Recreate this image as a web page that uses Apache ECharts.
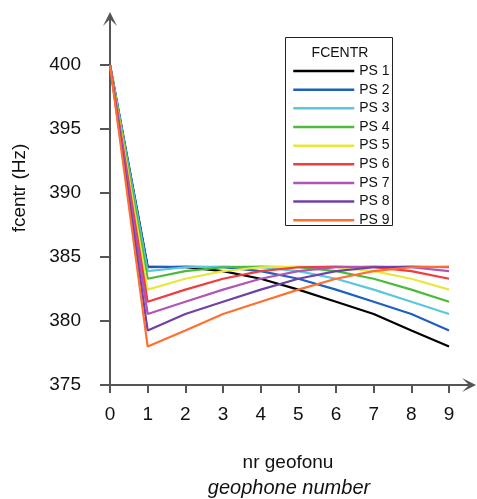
<!DOCTYPE html>
<html>
<head>
<meta charset="utf-8">
<script src="https://cdn.jsdelivr.net/npm/echarts@6/dist/echarts.min.js"></script>
<style>
html,body{margin:0;padding:0;background:#fff;}
#c{width:477px;height:499px;}
</style>
</head>
<body>
<div id="c"></div>
<script>
var geophones = [0, 1, 2, 3, 4, 5, 6, 7, 8, 9];
var seriesNames = ['PS 1', 'PS 2', 'PS 3', 'PS 4', 'PS 5', 'PS 6', 'PS 7', 'PS 8', 'PS 9'];
var ps1 = [400, 384.25, 384.2, 383.9, 383.3, 382.45, 381.5, 380.55, 379.25, 378.0];
var ps2 = [400, 384.2, 384.25, 384.2, 383.9, 383.3, 382.45, 381.5, 380.55, 379.25];
var ps3 = [400, 383.9, 384.2, 384.25, 384.2, 383.9, 383.3, 382.45, 381.5, 380.55];
var ps4 = [400, 383.3, 383.9, 384.2, 384.25, 384.2, 383.9, 383.3, 382.45, 381.5];
var ps5 = [400, 382.45, 383.3, 383.9, 384.2, 384.25, 384.2, 383.9, 383.3, 382.45];
var ps6 = [400, 381.5, 382.45, 383.3, 383.9, 384.2, 384.25, 384.2, 383.9, 383.3];
var ps7 = [400, 380.55, 381.5, 382.45, 383.3, 383.9, 384.2, 384.25, 384.2, 383.9];
var ps8 = [400, 379.25, 380.55, 381.5, 382.45, 383.3, 383.9, 384.2, 384.25, 384.2];
var ps9 = [400, 378.0, 379.25, 380.55, 381.5, 382.45, 383.3, 383.9, 384.2, 384.25];
var yTicks = [375, 380, 385, 390, 395, 400];
var xTicks = [0, 1, 2, 3, 4, 5, 6, 7, 8, 9];

var allSeries = [ps1, ps2, ps3, ps4, ps5, ps6, ps7, ps8, ps9];
var colors = ['#000000', '#1f5fbf', '#5cc6dc', '#4cba3c', '#e8e83c', '#f03c3c', '#b055b5', '#7040a8', '#ff7030'];
var FONT = '"Liberation Sans", Arial, sans-serif';
var AX = '#555555';
var arrowPath = 'path://M0,10 L5,0 L10,10 L5,5 Z';

var chart = echarts.init(document.getElementById('c'), null, {renderer: 'canvas'});
chart.setOption({
  animation: false,
  backgroundColor: '#ffffff',
  color: colors,
  grid: {left: 110, right: 8, top: 19, bottom: 114, containLabel: false},
  xAxis: {
    type: 'value', min: 0, max: 9.53,
    axisLine: {show: true, lineStyle: {color: AX, width: 2}, symbol: ['none', arrowPath], symbolSize: [16, 14]},
    axisTick: {show: true, length: 8, lineStyle: {color: AX, width: 2}, customValues: xTicks},
    axisLabel: {customValues: xTicks, margin: 20, fontSize: 19, color: '#111', fontFamily: FONT},
    splitLine: {show: false}
  },
  yAxis: {
    type: 'value', min: 375, max: 403.6,
    axisLine: {show: true, lineStyle: {color: AX, width: 2}, symbol: ['none', arrowPath], symbolSize: [16, 14]},
    axisTick: {show: true, length: 10, lineStyle: {color: AX, width: 2}, customValues: yTicks},
    axisLabel: {customValues: yTicks, margin: 29, fontSize: 19, color: '#111', fontFamily: FONT},
    splitLine: {show: false}
  },
  legend: {
    orient: 'vertical', left: 285, top: 38,
    padding: [26, 5, 4, 7],
    itemWidth: 61, itemHeight: 14, itemGap: 4.66,
    itemStyle: {opacity: 0},
    lineStyle: {width: 2.5},
    textStyle: {fontSize: 14, lineHeight: 14, color: '#111', fontFamily: FONT},
    data: seriesNames
  },
  graphic: [
    {type: 'rect', shape: {x: 285.5, y: 37.5, width: 107, height: 188}, style: {fill: 'none', stroke: '#222', lineWidth: 1}, z: 100},
    {type: 'text', x: 340, y: 53, style: {text: 'FCENTR', fontSize: 14, fontFamily: FONT, fill: '#111', align: 'center', verticalAlign: 'middle'}, z: 100},
    {type: 'text', x: 288, y: 463, style: {text: 'nr geofonu', fontSize: 19, fontFamily: FONT, fill: '#111', align: 'center', verticalAlign: 'middle'}},
    {type: 'text', x: 289, y: 488, style: {text: 'geophone number', fontSize: 20, fontStyle: 'italic', fontFamily: FONT, fill: '#111', align: 'center', verticalAlign: 'middle'}},
    {type: 'text', x: 20, y: 188, rotation: Math.PI / 2, style: {text: 'fcentr (Hz)', fontSize: 19, fontFamily: FONT, fill: '#111', align: 'center', verticalAlign: 'middle'}},
    {type: 'line', shape: {x1: 110, y1: 385, x2: 110, y2: 392}, style: {stroke: AX, lineWidth: 2}},
    {type: 'line', shape: {x1: 102, y1: 385, x2: 110, y2: 385}, style: {stroke: AX, lineWidth: 2}}
  ],
  series: allSeries.map(function (arr, i) {
    return {
      name: seriesNames[i],
      type: 'line',
      showSymbol: false,
      symbol: 'none',
      lineStyle: {width: 2.2, color: colors[i]},
      itemStyle: {color: colors[i]},
      data: geophones.map(function (g, j) { return [g, arr[j]]; })
    };
  })
});
</script>
</body>
</html>
